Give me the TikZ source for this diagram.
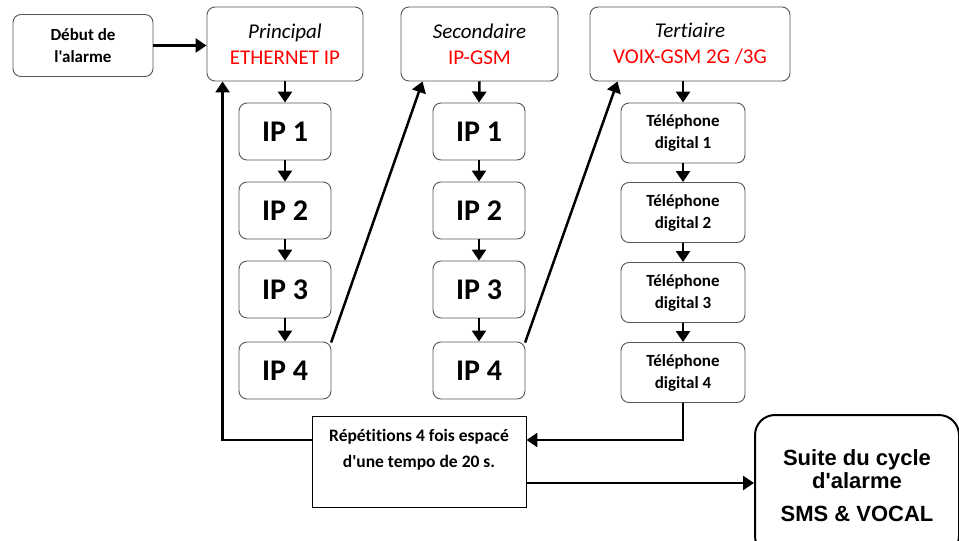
\documentclass[tikz,border=0pt]{standalone}
\usepackage{fontspec}
\setmainfont{Carlito}[Ligatures={TeXOff,NoCommon}]
\newfontfamily\arialf{Liberation Sans}[Ligatures={TeXOff,NoCommon}]
\usetikzlibrary{arrows.meta,calc}
\definecolor{boxgray}{HTML}{555555}
\definecolor{txtred}{HTML}{FF0000}
\begin{document}
\begin{tikzpicture}[x=1pt,y=-1pt,
  rbox/.style={draw=boxgray,line width=0.9pt,rounded corners=8pt,fill=white,
    align=center,inner sep=0pt},
  headbox/.style={rbox,minimum height=74pt,font=\fontsize{21}{25}\selectfont},
  ipbox/.style={rbox,minimum width=92pt,minimum height=57pt,
    font=\bfseries\fontsize{30}{34}\selectfont},
  telbox/.style={rbox,minimum width=124pt,minimum height=60pt,
    font=\bfseries\fontsize{17}{22}\selectfont},
  arr/.style={line width=2.5pt,-{Triangle[length=11pt,width=14pt]}},
]
\useasboundingbox (0,0) rectangle (959,541);
\clip (0,0) rectangle (959,541);

% top row
\node[rbox,minimum width=140pt,minimum height=62pt,
  font=\bfseries\fontsize{17}{22}\selectfont] (debut) at (83,45.5) {Début de\\l'alarme};
\node[headbox,minimum width=156pt] (principal) at (285,44)
  {\textit{Principal}\\[1pt]\textcolor{txtred}{ETHERNET IP}};
\node[headbox,minimum width=157pt] (sec) at (479.5,44)
  {\textit{Secondaire}\\[1pt]\textcolor{txtred}{IP-GSM}};
\node[headbox,minimum width=200pt] (ter) at (690,44)
  {\textit{Tertiaire}\\[1pt]\textcolor{txtred}{VOIX-GSM 2G /3G}};

% IP column 1
\node[ipbox] (a1) at (285,131.5) {IP 1};
\node[ipbox] (a2) at (285,210.5) {IP 2};
\node[ipbox] (a3) at (285,289.5) {IP 3};
\node[ipbox] (a4) at (285,370.5) {IP 4};
% IP column 2
\node[ipbox] (b1) at (479,131.5) {IP 1};
\node[ipbox] (b2) at (479,210.5) {IP 2};
\node[ipbox] (b3) at (479,289.5) {IP 3};
\node[ipbox] (b4) at (479,370.5) {IP 4};
% phone column
\node[telbox] (t1) at (683,133) {Téléphone\\digital 1};
\node[telbox] (t2) at (683,212.5) {Téléphone\\digital 2};
\node[telbox] (t3) at (683,292.5) {Téléphone\\digital 3};
\node[telbox] (t4) at (683,372.5) {Téléphone\\digital 4};

% repetition box
\node[draw=black,line width=0.9pt,fill=white,minimum width=214pt,minimum height=91pt,
  align=center,inner sep=0pt,font=\bfseries\fontsize{17.5}{26}\selectfont]
  (rep) at (419,461.5) {Répétitions 4 fois espacé\\d'une tempo de 20 s.\\\mbox{}};

% suite box
\node[draw=black,line width=2pt,rounded corners=20pt,fill=white,anchor=north west,
  minimum width=204pt,minimum height=141pt,align=center,inner sep=0pt,
  font=\arialf\bfseries\fontsize{22}{23}\selectfont]
  (suite) at (754,414) {Suite du cycle\\d'alarme\\[10pt]SMS \& VOCAL};

% connectors
\draw[arr] (debut.east) -- (principal.west |- debut.east);
\draw[arr] (principal.south) -- (a1.north);
\draw[arr] (a1) -- (a2);
\draw[arr] (a2) -- (a3);
\draw[arr] (a3) -- (a4);
\draw[arr] (sec.south) -- (b1.north);
\draw[arr] (b1) -- (b2);
\draw[arr] (b2) -- (b3);
\draw[arr] (b3) -- (b4);
\draw[arr] (ter.south -| t1.north) -- (t1.north);
\draw[arr] (t1) -- (t2);
\draw[arr] (t2) -- (t3);
\draw[arr] (t3) -- (t4);

\draw[arr,shorten <=-1pt] (a4.north east) -- ($(sec.south west)+(22,0)$);
\draw[arr,shorten <=-1pt] (b4.north east) -- ($(ter.south west)+(28,0)$);

\draw[arr] (t4.south) |- ($(rep.east)+(0,-21.5)$);
\draw[arr] ($(rep.west)+(0,-21.5)$) -| ($(principal.south west)+(16,0)$);
\draw[arr] ($(rep.east)+(0,21.5)$) -- (suite.west |- {$(rep.east)+(0,21.5)$});
\end{tikzpicture}
\end{document}
